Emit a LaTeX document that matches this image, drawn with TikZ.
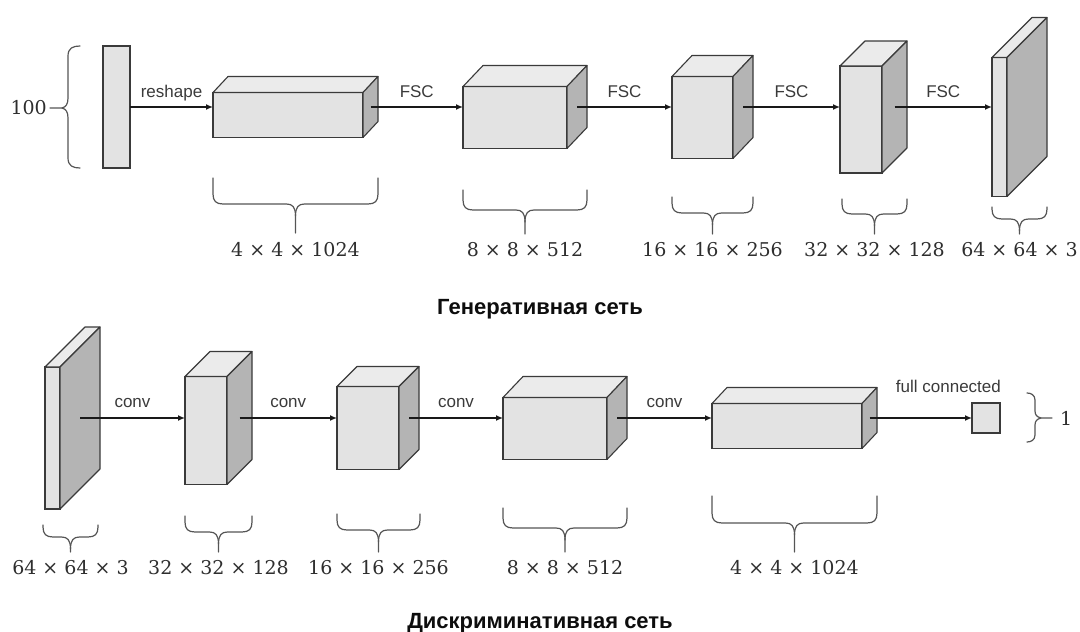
\documentclass[tikz,border=0pt]{standalone}
\usepackage{fontspec}
\usetikzlibrary{positioning, arrows.meta}

\newfontfamily\labelfont{Liberation Sans}
\newfontfamily\dimfont{DejaVu Serif}

\definecolor{edgegray}{HTML}{3A3A3A}
\definecolor{frontgray}{HTML}{E3E3E3}
\definecolor{topgray}{HTML}{EBEBEB}
\definecolor{sidegray}{HTML}{B4B4B4}
\definecolor{bracegray}{HTML}{555555}
\definecolor{labelgray}{HTML}{3A3A3A}
\definecolor{dimgray}{HTML}{2E2E2E}

% top and side faces of a layer, plus the middle of its side face
\newcommand{\layerfaces}[3]{%
    \filldraw[topface]  (#1.north west) -- ++(#2,-#3) -- ([shift={(#2,-#3)}]#1.north east) -- (#1.north east) -- cycle;
    \filldraw[sideface] (#1.north east) -- ([shift={(#2,-#3)}]#1.north east) -- ([shift={(#2,-#3)}]#1.south east) -- (#1.south east) -- cycle;
    \coordinate (#1-side) at ([shift={(#2/2,-#3/2)}]#1.east);
}

% curly brace under a layer: name of tip, x left, x right, y top, y middle, y tip
\newcommand{\dimbrace}[6]{%
    \pgfmathsetmacro\xm{(#2+#3)/2}
    \draw[bracestyle] (#2,#4) -- (#2,#5-10) .. controls (#2,#5-3) and (#2+3,#5) .. (#2+10,#5) -- (\xm-9,#5)
                      .. controls (\xm-3,#5) and (\xm,#5+3) .. (\xm,#5+12) -- (\xm,#6);
    \draw[bracestyle] (#3,#4) -- (#3,#5-10) .. controls (#3,#5-3) and (#3-3,#5) .. (#3-10,#5) -- (\xm+9,#5)
                      .. controls (\xm+3,#5) and (\xm,#5+3) .. (\xm,#5+12);
    \coordinate (#1) at (\xm,#6);
}

\tikzset{
    front/.style     = {rectangle, draw = edgegray, fill = frontgray, line width = 1.1pt,
                        inner sep = 0pt, outer sep = 0pt},
    topface/.style   = {draw = edgegray, fill = topgray, line width = 1.1pt, line join = round},
    sideface/.style  = {draw = edgegray, fill = sidegray, line width = 1.1pt, line join = round},
    flow/.style      = {-{Latex[length=7pt, width=6pt]}, line width = 1.4pt, draw = black!90},
    arrowlabel/.style= {anchor = base, text = labelgray, font = \labelfont\fontsize{17}{20}\selectfont},
    bracestyle/.style= {draw = bracegray, line width = 1.2pt, line cap = round},
    dimlabel/.style  = {text = dimgray, inner sep = 0pt, font = \dimfont\fontsize{19}{23}\selectfont},
    title/.style     = {anchor = base, text = black!95, font = \labelfont\bfseries\fontsize{22}{26}\selectfont}
}

\begin{document}
\begin{tikzpicture}[x=1pt, y=-1pt]
        \path[use as bounding box] (0,0) rectangle (1080,632);

        % ---------------------------------------------------------------------------
        % Generator: layers
        % ---------------------------------------------------------------------------
        \node[front, minimum width = 27pt,  minimum height = 122pt] (In) at (116.5,107)   {};
        \node[front, minimum width = 150pt, minimum height = 45pt]  (G1) at (288,115)     {};
        \node[front, minimum width = 104pt, minimum height = 62pt]  (G2) at (515,117.5)   {};
        \node[front, minimum width = 61pt,  minimum height = 82pt]  (G3) at (702.5,117.5) {};
        \node[front, minimum width = 42pt,  minimum height = 107pt] (G4) at (861,119.5)   {};
        \node[front, minimum width = 15pt,  minimum height = 139pt] (G5) at (999.5,127)   {};

        \layerfaces{G1}{15}{16}
        \layerfaces{G2}{20}{21}
        \layerfaces{G3}{20}{21}
        \layerfaces{G4}{25}{25}
        \layerfaces{G5}{40}{40}

        % ---------------------------------------------------------------------------
        % Generator: arrows
        % ---------------------------------------------------------------------------
        \draw[flow] (In.east)  -- node[arrowlabel, yshift=10pt] {reshape} (In.east -| G1.west);
        \draw[flow] (G1-side)  -- node[arrowlabel, yshift=10pt] {FSC}     (G1-side -| G2.west);
        \draw[flow] (G2-side)  -- node[arrowlabel, yshift=10pt] {FSC}     (G2-side -| G3.west);
        \draw[flow] (G3-side)  -- node[arrowlabel, yshift=10pt] {FSC}     (G3-side -| G4.west);
        \draw[flow] (G4-side)  -- node[arrowlabel, yshift=10pt] {FSC}     (G4-side -| G5.west);

        % ---------------------------------------------------------------------------
        % Generator: braces and sizes
        % ---------------------------------------------------------------------------
        \draw[bracestyle] (80,46) .. controls (73,46) and (68,48) .. (68,56) -- (68,98)
                          .. controls (68,104) and (66,107) .. (62,108) -- (50,108);
        \draw[bracestyle] (80,168) .. controls (73,168) and (68,166) .. (68,158) -- (68,118)
                          .. controls (68,112) and (66,109) .. (62,108);
        \node[dimlabel, anchor = east] (N100) at (47,108) {100};

        \dimbrace{G1tip}{213}{378}{178}{204}{233}
        \dimbrace{G2tip}{463}{587}{190}{210}{234}
        \dimbrace{G3tip}{672}{753}{197}{213}{234}
        \dimbrace{G4tip}{842}{907}{199}{214}{234}
        \dimbrace{G5tip}{992}{1047}{207}{219}{234}

        \node[dimlabel, below = 9pt] (G1size) at (G1tip) {4 × 4 × 1024};
        \node[dimlabel, below = 8pt] (G2size) at (G2tip) {8 × 8 × 512};
        \node[dimlabel, below = 8pt] (G3size) at (G3tip) {16 × 16 × 256};
        \node[dimlabel, below = 8pt] (G4size) at (G4tip) {32 × 32 × 128};
        \node[dimlabel, below = 8pt] (G5size) at (G5tip) {64 × 64 × 3};

        \node[title] (GenTitle) at (540,314) {Генеративная сеть};

        % ---------------------------------------------------------------------------
        % Discriminator: layers
        % ---------------------------------------------------------------------------
        \node[front, minimum width = 15pt,  minimum height = 142pt] (D1)  at (52.5,438)  {};
        \node[front, minimum width = 42pt,  minimum height = 108pt] (D2)  at (206,430.5) {};
        \node[front, minimum width = 62pt,  minimum height = 83pt]  (D3)  at (368,428)   {};
        \node[front, minimum width = 104pt, minimum height = 62pt]  (D4)  at (555,428.5) {};
        \node[front, minimum width = 150pt, minimum height = 45pt]  (D5)  at (787,426)   {};
        \node[front, minimum width = 28pt,  minimum height = 30pt]  (Out) at (986,418)   {};

        \layerfaces{D1}{40}{40}
        \layerfaces{D2}{25}{25}
        \layerfaces{D3}{20}{20}
        \layerfaces{D4}{20}{21}
        \layerfaces{D5}{15}{16}

        % ---------------------------------------------------------------------------
        % Discriminator: arrows
        % ---------------------------------------------------------------------------
        \draw[flow] (D1-side) -- node[arrowlabel, yshift=11pt] {conv} (D1-side -| D2.west);
        \draw[flow] (D2-side) -- node[arrowlabel, yshift=11pt] {conv} (D2-side -| D3.west);
        \draw[flow] (D3-side) -- node[arrowlabel, yshift=11pt] {conv} (D3-side -| D4.west);
        \draw[flow] (D4-side) -- node[arrowlabel, yshift=11pt] {conv} (D4-side -| D5.west);
        \draw[flow] (D5-side) -- node[arrowlabel, pos=0.77, yshift=26pt] {full connected} (Out.west);

        % ---------------------------------------------------------------------------
        % Discriminator: braces and sizes
        % ---------------------------------------------------------------------------
        \dimbrace{D1tip}{43}{98}{525}{537}{552}
        \dimbrace{D2tip}{185}{252}{516}{532}{552}
        \dimbrace{D3tip}{337}{420}{514}{530}{552}
        \dimbrace{D4tip}{503}{627}{508}{528}{552}
        \dimbrace{D5tip}{712}{877}{496}{523}{552}

        \node[dimlabel, below = 8pt] (D1size) at (D1tip) {64 × 64 × 3};
        \node[dimlabel, below = 8pt] (D2size) at (D2tip) {32 × 32 × 128};
        \node[dimlabel, below = 8pt] (D3size) at (D3tip) {16 × 16 × 256};
        \node[dimlabel, below = 8pt] (D4size) at (D4tip) {8 × 8 × 512};
        \node[dimlabel, below = 8pt] (D5size) at (D5tip) {4 × 4 × 1024};

        \draw[bracestyle] (1027,393) .. controls (1031,393) and (1035,395) .. (1035,400) -- (1035,411)
                          .. controls (1035,415) and (1037,417) .. (1041,418) -- (1052,418);
        \draw[bracestyle] (1027,442) .. controls (1031,442) and (1035,440) .. (1035,435) -- (1035,425)
                          .. controls (1035,421) and (1037,419) .. (1041,418);
        \node[dimlabel, anchor = west] (N1) at (1060,418) {1};

        \node[title] (DiscTitle) at (540,628) {Дискриминативная сеть};
\end{tikzpicture}
\end{document}
